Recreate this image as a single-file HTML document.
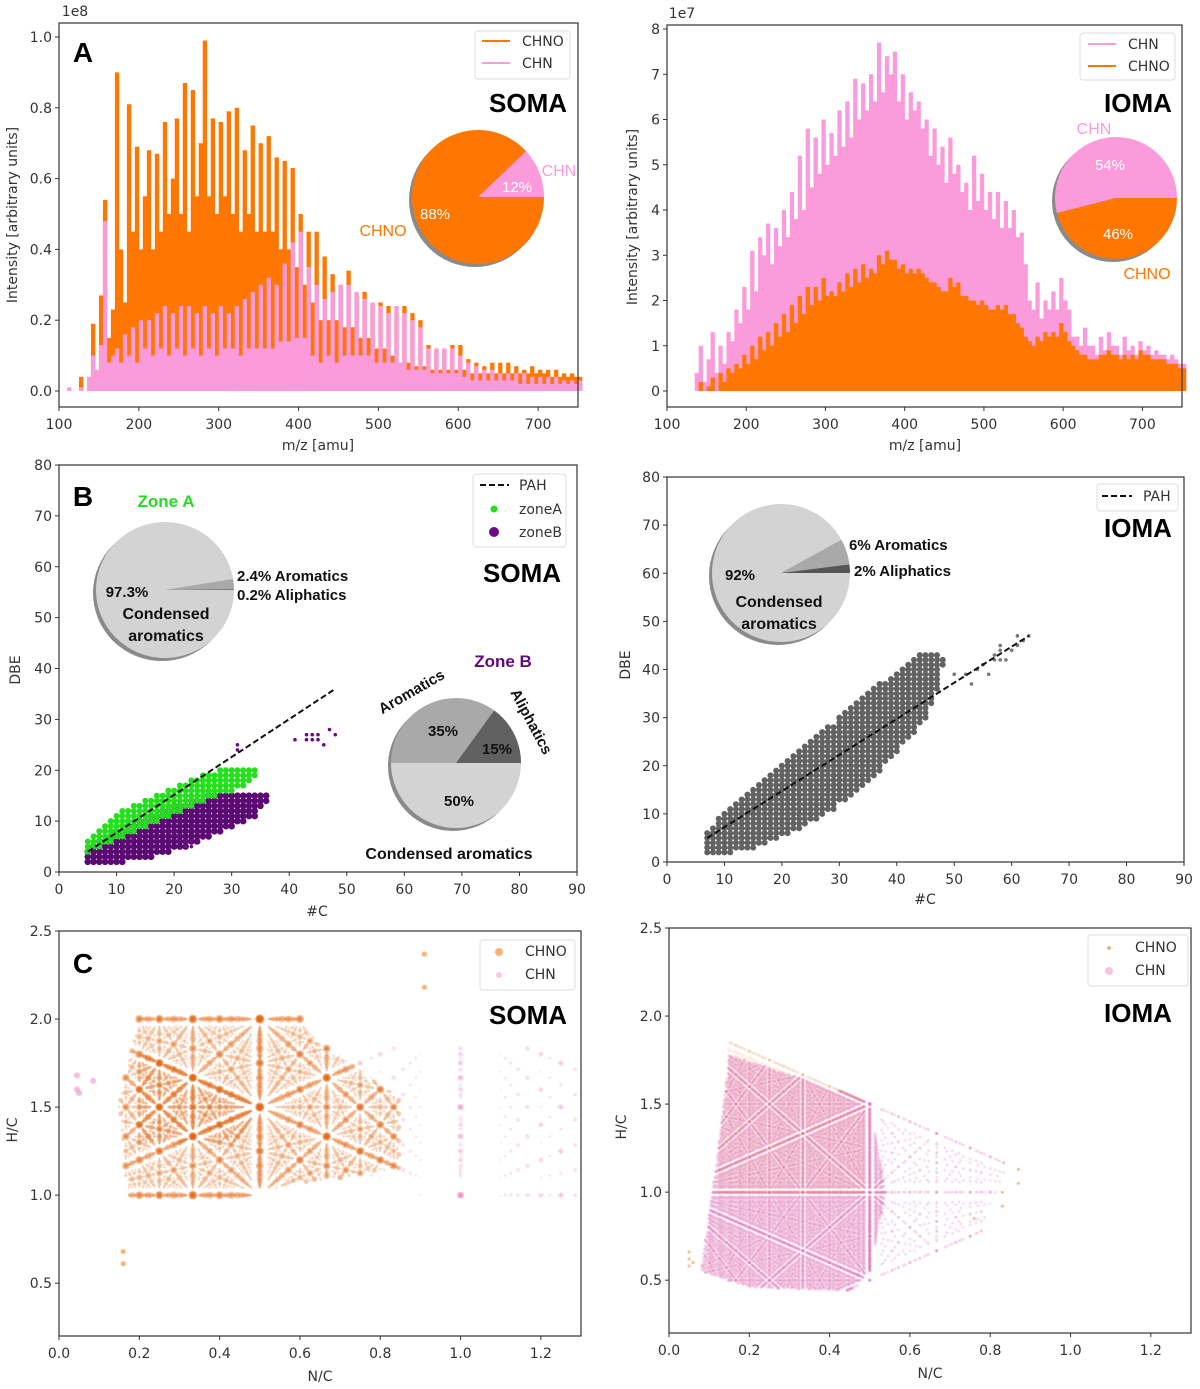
<!DOCTYPE html>
<html><head><meta charset="utf-8"><style>
html,body{margin:0;padding:0;background:#fff;}
#wrap{position:relative;width:1200px;height:1389px;overflow:hidden;}
canvas{position:absolute;left:0;top:0;}
svg{position:absolute;left:0;top:0;}
</style></head><body>
<div id="wrap">
<canvas id="cv" width="1200" height="1389"></canvas>
<svg id="fig" width="1200" height="1389" xmlns="http://www.w3.org/2000/svg"></svg>
</div>
<script>
// ---------- DATA ----------
// Panel A left (SOMA), bins of 5 amu starting at 110, units 1e6 (percent of 1e8)
const somaStart = 110;
const somaCHNO = [1,0,0,4,0,0,19,5,27,54, 15,23,90,40,25,81,45,69,40,55, 68,40,67,45,76,50,60,77,50,87,
45,85,55,70,99,55,77,50,76,55, 79,50,80,45,68,50,75,45,70,45, 72,45,66,40,65,40,63,35,50,30,
45,25,45,20,38,20,33,20,30,18, 34,18,27,15,28,15,25,12,25,12, 24,10,22,8,24,8,22,7,20,7,
13,6,12,6,12,6,13,6,13,6, 9,5,8,5,7,5,8,5,8,5, 8,5,7,5,6,5,7,5,6,5, 6,4,6,4,5,4,5,4,4];
const somaCHN = [1,0,0,1,0,4,10,6,13,48, 8,10,12,8,16,10,18,8,20,12, 20,10,22,12,24,10,22,12,24,10,
24,12,22,10,24,12,22,10,24,12, 22,12,24,10,26,12,28,12,30,12, 32,12,30,14,36,14,42,15,45,15,
35,10,30,8,26,10,28,8,30,10, 30,10,28,10,26,10,25,8,24,8, 22,8,24,8,22,6,20,6,18,6,
12,5,12,5,12,5,12,5,10,4, 8,3,7,3,6,3,6,3,5,3, 5,3,5,2,5,2,4,2,4,2, 4,2,4,2,3,2,3,2,3];
// Panel A right (IOMA), bins of 5 amu starting at 135, units 1e6
const iomaStart = 135;
const iomaCHN = [4,10,2,7,13,4,10,6,13,11, 18,15,23,18,31,22,34,30,37,28, 36,32,40,34,44,38,52,40,58,45,
56,48,60,50,57,52,62,54,64,56, 69,60,68,62,70,64,77,66,74,70, 75,64,70,60,66,62,64,58,60,52,
58,50,54,46,56,48,50,44,46,40, 52,42,48,40,44,38,44,36,42,36, 40,34,35,28,20,18,24,16,20,18,
22,18,25,20,18,12,12,10,14,10, 10,8,12,9,13,10,10,8,12,9, 10,8,11,9,10,8,9,8,8,7, 8,7,6,6];
const iomaCHNO = [0,2,0,1,3,0,4,2,5,4, 6,5,8,6,10,7,12,9,13,10, 15,12,17,13,19,15,21,17,23,19,
23,20,25,21,22,21,24,22,26,23, 27,24,28,25,27,26,30,28,31,29, 29,27,28,26,27,26,27,26,25,24,
24,23,22,22,25,23,24,21,21,20, 20,19,20,19,18,18,19,18,19,17, 17,15,14,12,11,10,12,11,13,12,
13,12,15,13,11,10,9,8,8,7, 7,7,8,8,9,8,8,7,8,7, 8,7,9,8,8,7,7,7,7,6, 6,6,5,5];
// Pie shares
const somaPie = [12, 88];          // CHN, CHNO
const iomaPie = [54, 46];          // CHN, CHNO
const zoneAPie = [0.2, 2.4, 97.4]; // aliphatics, aromatics, condensed
const zoneBPie = [15, 35, 50];     // aliphatics, aromatics, condensed
const iomaDbePie = [2, 6, 92];
// Panel B left: per carbon number DBE ranges
const bCarbons = [5,6,7,8,9,10,11,12,13,14,15,16,17,18,19,20,21,22,23,24,25,26,27,28,29,30,31,32,33,34,35,36];
const zoneAMin = [4,5,5,6,6,7,7,8,8,9,9,10,10,11,11,12,12,13,13,14,14,15,15,16,16,16,17,17,18,19,0,0];
const zoneAMax = [6,7,8,9,10,11,12,12,13,13,14,14,15,15,16,16,17,17,18,18,19,19,19,20,20,20,20,20,20,20,0,0];
const zoneBMin = [2,2,2,2,2,2,2,3,3,3,3,3,4,4,4,5,5,5,6,6,7,7,8,8,9,9,10,10,11,11,13,14];
const zoneBMax = [4,5,6,6,7,8,8,9,9,10,10,11,11,12,12,13,13,13,14,14,14,15,15,15,15,15,15,15,15,15,15,15];
const zoneBOut = [[41,26],[43,27],[43,26],[44,26],[44,27],[45,26],[45,27],[46,25],[47,28],[48,27],[31,24],[31,25],[21,6],[22,5],[22,6],[23,5],[23,6]];
const pahSoma = [[5,4],[48,36]];
// Panel B right
const rCarbons = [7,8,9,10,11,12,13,14,15,16,17,18,19,20,21,22,23,24,25,26,27,28,29,30,31,32,33,34,35,36,37,38,39,40,41,42,43,44,45,46,47,48];
const rMin = [2,2,2,2,2,3,3,3,3,4,4,5,5,6,6,7,7,8,9,9,10,11,11,13,13,14,15,16,17,18,19,21,22,23,25,26,27,29,30,33,36,41];
const rMax = [6,7,9,10,11,12,13,14,15,16,17,18,19,20,21,22,23,24,25,26,27,28,28,30,31,32,33,34,35,36,37,37,38,39,40,41,42,43,43,43,43,42];
const rOut = [[50,39],[52,39],[53,37],[54,40],[55,41],[56,39],[57,42],[57,43],[58,44],[58,42],[58,45],[59,42],[60,44],[61,45],[61,47],[62,46],[63,47]];
const pahIoma = [[7,5],[63,47]];
// Panel C: composition regions (N/C, H/C polygons) and carbon ranges
const somaOrangePoly = [[0.17,1.0],[0.15,1.5],[0.2,2.02],[0.6,2.02],[0.63,1.9],[0.85,1.55],[0.85,1.15],[0.55,1.05],[0.5,1.0]];
const somaOrangeC = [2,24];
const somaDensePoly = [[0.2,1.3],[0.2,1.8],[0.5,1.52],[0.45,1.3]];
const somaDenseC = [4,24];
const somaPinkPoly = [[0.6,1.1],[0.6,1.85],[1.3,1.85],[1.3,1.0],[0.9,1.0]];
const somaPinkC = [2,10];
const somaPinkOut = [[0.045,1.6],[0.045,1.68],[0.05,1.58],[0.085,1.65]];
const somaOrangeOut = [[0.91,2.37],[0.91,2.18],[0.16,0.61],[0.16,0.68]];
const iomaDensePoly = [[0.08,0.55],[0.12,1.2],[0.15,1.78],[0.5,1.52],[0.54,1.0],[0.5,0.55],[0.45,0.44],[0.2,0.46]];
const iomaDenseC = [3,40];
const iomaHaloPoly = [[0.5,1.52],[0.85,1.2],[0.78,0.78],[0.45,0.44],[0.52,1.0]];
const iomaHaloC = [3,18];
const iomaOrangePoly = [[0.12,1.0],[0.15,1.87],[0.5,1.52],[0.5,1.0]];
const iomaOrangeC = [3,30];
const iomaOrangeOut = [[0.05,0.58],[0.05,0.62],[0.05,0.66],[0.06,0.6],[0.87,1.13],[0.87,1.05],[0.83,1.0],[0.83,0.92],[0.76,0.85]];

// ---------- HELPERS ----------
const NS = 'http://www.w3.org/2000/svg';
const svg = document.getElementById('fig');
function mk(tag, attrs, parent){
  const e = document.createElementNS(NS, tag);
  for (const k in attrs) e.setAttribute(k, attrs[k]);
  (parent || svg).appendChild(e);
  return e;
}
function sc(d0,d1,r0,r1){ return v => r0 + (v-d0)/(d1-d0)*(r1-r0); }
function txt(x,y,s,size,opts){
  opts = opts || {};
  const t = mk('text',{x:x,y:y,'font-size':size,'font-family':opts.ff||'"DejaVu Sans","Liberation Sans",sans-serif',
    fill:opts.fill||'#333','text-anchor':opts.anchor||'middle','font-weight':opts.bold?'bold':'normal'});
  if (opts.rot!==undefined) t.setAttribute('transform','rotate('+opts.rot+' '+x+' '+y+')');
  t.textContent = s;
  return t;
}
const BF = '"Liberation Sans",sans-serif';

function axes(id, L, T, R, B, xs, ys, xt, yt, xfmt, yfmt){
  const g = mk('g',{});
  
  
  const fr = mk('rect',{x:L,y:T,width:R-L,height:B-T,fill:'none',stroke:'#333','stroke-width':1.2}, g);
  
  
  xt.forEach(v => {
    const x = xs(v);
    mk('line',{x1:x,x2:x,y1:B,y2:B+4,stroke:'#333'}, g);
    const t = txt(x, B+22, xfmt(v), 14);
    
    
    g.appendChild(t);
  });
  yt.forEach(v => {
    const y = ys(v);
    mk('line',{x1:L-4,x2:L,y1:y,y2:y,stroke:'#333'}, g);
    const t = txt(L-7, y+5, yfmt(v), 14, {anchor:'end'});
    
    
    g.appendChild(t);
  });
  return g;
}
function wedge(cx,cy,rx,ry,a0,a1,fill,name){
  const r0 = a0*Math.PI/180, r1 = a1*Math.PI/180;
  const x0 = cx+rx*Math.cos(r0), y0 = cy-ry*Math.sin(r0);
  const x1 = cx+rx*Math.cos(r1), y1 = cy-ry*Math.sin(r1);
  const large = (a1-a0)>180?1:0;
  const p = mk('path',{d:`M${cx},${cy} L${x0},${y0} A${rx},${ry} 0 ${large} 0 ${x1},${y1} Z`,fill:fill});
  
  
  return p;
}
function pie(cx,cy,rx,ry,shares,colors,names,start){
  const sh = mk('ellipse',{cx:cx-3,cy:cy+3,rx:rx,ry:ry,fill:'#8a8a8a'});
  
  
  const tot = shares.reduce((a,b)=>a+b,0);
  let a = start;
  shares.forEach((s,i)=>{
    const span = s/tot*360;
    wedge(cx,cy,rx,ry,a,a+span,colors[i],names[i]);
    a += span;
  });
}
function legendBox(x,y,w,h,name){
  const r = mk('rect',{x:x,y:y,width:w,height:h,rx:3,fill:'#fff',stroke:'#ddd'});
  
  
}
const ORANGE = '#ff7600', PINK = '#fb9bdb';

// ---------- PANEL A LEFT ----------
(function(){
  const xs = sc(100,750,59,578), ys = sc(0,1,391,37);
  somaCHNO.forEach((v,i)=>{
    const m = somaStart + i*5, y = ys(v/100);
    const r = mk('rect',{x:xs(m),y:y,width:xs(m+5)-xs(m)+0.3,height:ys(0)-y,fill:ORANGE});
    
    
  });
  somaCHN.forEach((v,i)=>{
    const m = somaStart + i*5, y = ys(v/100);
    const r = mk('rect',{x:xs(m),y:y,width:xs(m+5)-xs(m)+0.3,height:ys(0)-y,fill:PINK});
    
    
  });
  axes('spectrum-soma',59,23,578,407,xs,ys,[100,200,300,400,500,600,700],[0,0.2,0.4,0.6,0.8,1.0],v=>v,v=>v.toFixed(1));
  let t = txt(75,16,'1e8',14);  
  t = txt(318,450,'m/z [amu]',14);  
  t = txt(17,215,'Intensity [arbitrary units]',14,{rot:-90});  
  t = txt(83,62,'A',28,{ff:BF,bold:true,fill:'#000'});  
  t = txt(528,112,'SOMA',26,{ff:BF,bold:true,fill:'#000'});  
  legendBox(475,31,95,48,'soma-spectrum-legend');
  let l = mk('line',{x1:482,x2:510,y1:41,y2:41,stroke:ORANGE,'stroke-width':2});  
  t = txt(522,46,'CHNO',14,{anchor:'start'});  
  l = mk('line',{x1:482,x2:510,y1:63,y2:63,stroke:PINK,'stroke-width':2});  
  t = txt(522,68,'CHN',14,{anchor:'start'});  
  pie(478,197,66,67,somaPie,[PINK,ORANGE],['soma-pie-chn','soma-pie-chno'],0);
  t = txt(517,192,'12%',15,{ff:BF,fill:'#fff'});  
  t = txt(435,219,'88%',15,{ff:BF,fill:'#fff'});  
  t = txt(559,176,'CHN',16,{ff:BF,fill:PINK});  
  t = txt(383,236,'CHNO',16,{ff:BF,fill:ORANGE});  
})();

// ---------- PANEL A RIGHT ----------
(function(){
  const xs = sc(100,750,667,1182), ys = sc(0,8,391,29);
  iomaCHN.forEach((v,i)=>{
    const m = iomaStart + i*5, y = ys(v/10);
    const r = mk('rect',{x:xs(m),y:y,width:xs(m+5)-xs(m)+0.3,height:ys(0)-y,fill:PINK});
    
    
  });
  iomaCHNO.forEach((v,i)=>{
    const m = iomaStart + i*5, y = ys(v/10);
    const r = mk('rect',{x:xs(m),y:y,width:xs(m+5)-xs(m)+0.3,height:ys(0)-y,fill:ORANGE});
    
    
  });
  axes('spectrum-ioma',667,25,1182,407,xs,ys,[100,200,300,400,500,600,700],[0,1,2,3,4,5,6,7,8],v=>v,v=>v);
  let t = txt(682,18,'1e7',14);  
  t = txt(925,450,'m/z [amu]',14);  
  t = txt(637,217,'Intensity [arbitrary units]',14,{rot:-90});  
  t = txt(1138,112,'IOMA',26,{ff:BF,bold:true,fill:'#000'});  
  legendBox(1080,33,95,47,'ioma-spectrum-legend');
  let l = mk('line',{x1:1088,x2:1116,y1:44,y2:44,stroke:PINK,'stroke-width':2});  
  t = txt(1128,49,'CHN',14,{anchor:'start'});  
  l = mk('line',{x1:1088,x2:1116,y1:66,y2:66,stroke:ORANGE,'stroke-width':2});  
  t = txt(1128,71,'CHNO',14,{anchor:'start'});  
  pie(1116,198,61,61,iomaPie,[PINK,ORANGE],['ioma-pie-chn','ioma-pie-chno'],0);
  t = txt(1110,170,'54%',15,{ff:BF,fill:'#fff'});  
  t = txt(1118,239,'46%',15,{ff:BF,fill:'#fff'});  
  t = txt(1094,134,'CHN',16,{ff:BF,fill:PINK});  
  t = txt(1147,279,'CHNO',16,{ff:BF,fill:ORANGE});  
})();

// ---------- PANEL B LEFT ----------
(function(){
  const xs = sc(0,90,59,577), ys = sc(0,80,872,465);
  bCarbons.forEach((c,i)=>{
    for (let d=zoneBMin[i]; d<=zoneBMax[i]; d++){
      const p = mk('circle',{cx:xs(c),cy:ys(d),r:3.3,fill:'#5a0a72'});
      
      
    }
  });
  bCarbons.forEach((c,i)=>{
    if (!zoneAMax[i]) return;
    for (let d=zoneAMin[i]; d<=zoneAMax[i]; d++){
      const p = mk('circle',{cx:xs(c),cy:ys(d),r:3,fill:'#22e01a'});
      
      
    }
  });
  zoneBOut.forEach(pt=>{
    const p = mk('circle',{cx:xs(pt[0]),cy:ys(pt[1]),r:1.8,fill:'#6a0d83'});
    
    
  });
  const ln = mk('line',{x1:xs(pahSoma[0][0]),y1:ys(pahSoma[0][1]),x2:xs(pahSoma[1][0]),y2:ys(pahSoma[1][1]),stroke:'#111','stroke-width':2,'stroke-dasharray':'6,3'});
  
  
  axes('dbe-soma',59,465,577,872,xs,ys,[0,10,20,30,40,50,60,70,80,90],[0,10,20,30,40,50,60,70,80],v=>v,v=>v);
  let t = txt(317,916,'#C',14);  
  t = txt(20,670,'DBE',14,{rot:-90});  
  t = txt(83,506,'B',28,{ff:BF,bold:true,fill:'#000'});  
  t = txt(522,582,'SOMA',26,{ff:BF,bold:true,fill:'#000'});  
  legendBox(473,474,93,73,'dbe-soma-legend');
  let l = mk('line',{x1:480,x2:509,y1:485,y2:485,stroke:'#111','stroke-width':2,'stroke-dasharray':'6,3'});  
  t = txt(519,490,'PAH',14,{anchor:'start'});  
  let c = mk('circle',{cx:494,cy:509,r:3.5,fill:'#22e01a'});  
  t = txt(519,514,'zoneA',14,{anchor:'start'});  
  c = mk('circle',{cx:494,cy:532,r:5,fill:'#6a0d83'});  
  t = txt(519,537,'zoneB',14,{anchor:'start'});  
  pie(165,590,69,68,zoneAPie,['#666','#a9a9a9','#d3d3d3'],['zonea-pie-aliphatics','zonea-pie-aromatics','zonea-pie-condensed'],0);
  t = txt(166,507,'Zone A',17,{ff:BF,bold:true,fill:'#22dd22'});  
  t = txt(127,597,'97.3%',15,{ff:BF,bold:true,fill:'#111'});  
  t = txt(166,619,'Condensed',16,{ff:BF,bold:true,fill:'#111'});  
  t = txt(166,641,'aromatics',16,{ff:BF,bold:true,fill:'#111'});  
  t = txt(237,581,'2.4% Aromatics',15,{ff:BF,bold:true,fill:'#111',anchor:'start'});  
  t = txt(237,600,'0.2% Aliphatics',15,{ff:BF,bold:true,fill:'#111',anchor:'start'});  
  pie(456,763,65,65,zoneBPie,['#606060','#a9a9a9','#d3d3d3'],['zoneb-pie-aliphatics','zoneb-pie-aromatics','zoneb-pie-condensed'],0);
  t = txt(503,667,'Zone B',17,{ff:BF,bold:true,fill:'#5e0a78'});  
  t = txt(443,736,'35%',15,{ff:BF,bold:true,fill:'#111'});  
  t = txt(497,754,'15%',15,{ff:BF,bold:true,fill:'#111'});  
  t = txt(459,806,'50%',15,{ff:BF,bold:true,fill:'#111'});  
  t = txt(414,696,'Aromatics',15,{ff:BF,bold:true,fill:'#111',rot:-30});  
  t = txt(527,724,'Aliphatics',15,{ff:BF,bold:true,fill:'#111',rot:62});  
  t = txt(449,859,'Condensed aromatics',16,{ff:BF,bold:true,fill:'#111'});  
})();

// ---------- PANEL B RIGHT ----------
(function(){
  const xs = sc(0,90,667,1184), ys = sc(0,80,862,477);
  rCarbons.forEach((c,i)=>{
    for (let d=rMin[i]; d<=rMax[i]; d++){
      const p = mk('circle',{cx:xs(c),cy:ys(d),r:3,fill:'#626262'});
      
      
    }
  });
  rOut.forEach(pt=>{
    const p = mk('circle',{cx:xs(pt[0]),cy:ys(pt[1]),r:1.8,fill:'#777'});
    
    
  });
  const ln = mk('line',{x1:xs(pahIoma[0][0]),y1:ys(pahIoma[0][1]),x2:xs(pahIoma[1][0]),y2:ys(pahIoma[1][1]),stroke:'#111','stroke-width':2,'stroke-dasharray':'6,3'});
  
  
  axes('dbe-ioma',667,477,1184,862,xs,ys,[0,10,20,30,40,50,60,70,80,90],[0,10,20,30,40,50,60,70,80],v=>v,v=>v);
  let t = txt(925,904,'#C',14);  
  t = txt(630,665,'DBE',14,{rot:-90});  
  t = txt(1138,537,'IOMA',26,{ff:BF,bold:true,fill:'#000'});  
  legendBox(1097,484,81,27,'dbe-ioma-legend');
  let l = mk('line',{x1:1102,x2:1132,y1:496,y2:496,stroke:'#111','stroke-width':2,'stroke-dasharray':'6,3'});  
  t = txt(1143,501,'PAH',14,{anchor:'start'});  
  pie(781,573,69,69,iomaDbePie,['#555','#a9a9a9','#d3d3d3'],['ioma-pie-aliphatics','ioma-pie-aromatics','ioma-pie-condensed'],0);
  t = txt(740,580,'92%',15,{ff:BF,bold:true,fill:'#111'});  
  t = txt(779,607,'Condensed',16,{ff:BF,bold:true,fill:'#111'});  
  t = txt(779,629,'aromatics',16,{ff:BF,bold:true,fill:'#111'});  
  t = txt(849,550,'6% Aromatics',15,{ff:BF,bold:true,fill:'#111',anchor:'start'});  
  t = txt(854,576,'2% Aliphatics',15,{ff:BF,bold:true,fill:'#111',anchor:'start'});  
})();

// ---------- PANEL C ----------
function inPoly(x,y,poly){
  let ins=false;
  for (let i=0,j=poly.length-1;i<poly.length;j=i++){
    const xi=poly[i][0], yi=poly[i][1], xj=poly[j][0], yj=poly[j][1];
    if (((yi>y)!==(yj>y)) && (x < (xj-xi)*(y-yi)/(yj-yi)+xi)) ins=!ins;
  }
  return ins;
}
const ctx = document.getElementById('cv').getContext('2d');
function compScatter(xs,ys,poly,cr,color,alpha,rfn){
  ctx.fillStyle = color; ctx.globalAlpha = alpha;
  for (let c=cr[0]; c<=cr[1]; c++){
    for (let n=1; n<=Math.ceil(c*1.3); n++){
      for (let h=1; h<=c*2.5; h++){
        const nc=n/c, hc=h/c;
        if (!inPoly(nc,hc,poly)) continue;
        ctx.beginPath(); ctx.arc(xs(nc),ys(hc),rfn(c),0,6.2832); ctx.fill();
      }
    }
  }
  ctx.globalAlpha = 1;
}
function outPts(xs,ys,pts,color,alpha,r){
  ctx.fillStyle=color; ctx.globalAlpha=alpha;
  pts.forEach(p=>{ctx.beginPath();ctx.arc(xs(p[0]),ys(p[1]),r,0,6.2832);ctx.fill();});
  ctx.globalAlpha=1;
}
(function(){
  const xs = sc(0,1.3,59,581), ys = sc(0.2,2.5,1336,931);
  compScatter(xs,ys,somaPinkPoly,somaPinkC,'#ee8fc8',0.3,c=>Math.max(1,4-c*0.3));
  compScatter(xs,ys,somaOrangePoly,somaOrangeC,'#e2670f',0.38,c=>Math.max(1,5-c*0.2));
  compScatter(xs,ys,somaDensePoly,somaDenseC,'#e2670f',0.3,c=>Math.max(1.2,4-c*0.12));
  outPts(xs,ys,somaPinkOut,'#ee8fc8',0.6,3);
  outPts(xs,ys,somaOrangeOut,'#e6801a',0.6,2.5);
  axes('hc-soma',59,931,581,1336,xs,ys,[0,0.2,0.4,0.6,0.8,1.0,1.2],[0.5,1.0,1.5,2.0,2.5],v=>v.toFixed(1),v=>v.toFixed(1));
  let t = txt(320,1381,'N/C',14);  
  t = txt(17,1130,'H/C',14,{rot:-90});  
  t = txt(83,973,'C',28,{ff:BF,bold:true,fill:'#000'});  
  t = txt(528,1024,'SOMA',26,{ff:BF,bold:true,fill:'#000'});  
  legendBox(480,940,95,50,'hc-soma-legend');
  let c = mk('circle',{cx:499,cy:952,r:4,fill:'#f7b27a'});  
  t = txt(525,956,'CHNO',14,{anchor:'start'});  
  c = mk('circle',{cx:499,cy:975,r:3,fill:'#f8c8e4'});  
  t = txt(525,979,'CHN',14,{anchor:'start'});  
})();
(function(){
  const xs = sc(0,1.3,669,1191), ys = sc(0.2,2.5,1333,928);
  compScatter(xs,ys,iomaHaloPoly,iomaHaloC,'#e890c8',0.35,c=>1.4);
  compScatter(xs,ys,iomaDensePoly,iomaDenseC,'#dd78b8',0.28,c=>1.5);
  compScatter(xs,ys,iomaOrangePoly,iomaOrangeC,'#e8843a',0.12,c=>1.3);
  outPts(xs,ys,iomaOrangeOut,'#f0a060',0.8,1.5);
  axes('hc-ioma',669,928,1191,1333,xs,ys,[0,0.2,0.4,0.6,0.8,1.0,1.2],[0.5,1.0,1.5,2.0,2.5],v=>v.toFixed(1),v=>v.toFixed(1));
  let t = txt(930,1378,'N/C',14);  
  t = txt(626,1127,'H/C',14,{rot:-90});  
  t = txt(1138,1022,'IOMA',26,{ff:BF,bold:true,fill:'#000'});  
  legendBox(1088,935,100,51,'hc-ioma-legend');
  let c = mk('circle',{cx:1109,cy:948,r:1.8,fill:'#f0a060'});  
  t = txt(1135,952,'CHNO',14,{anchor:'start'});  
  c = mk('circle',{cx:1109,cy:971,r:4,fill:'#f4c4e2'});  
  t = txt(1135,975,'CHN',14,{anchor:'start'});  
})();
</script>
</body></html>
